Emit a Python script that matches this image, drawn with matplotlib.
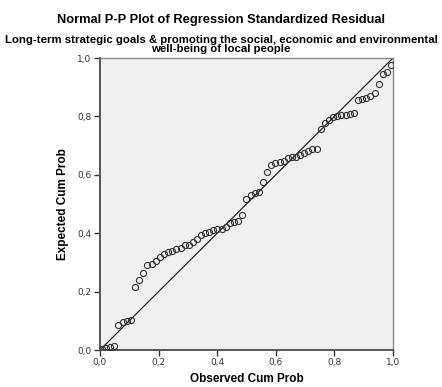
'''Normal P-P plot of regression standardized residual'''

import matplotlib
matplotlib.use('Agg')
import matplotlib.pyplot as plt
from matplotlib.ticker import FuncFormatter

#observed cumulative probabilities
observed = [0.007, 0.021, 0.035, 0.049, 0.063, 0.077, 0.092, 0.106, 0.120, 0.134,
	0.148, 0.162, 0.176, 0.190, 0.204, 0.218, 0.232, 0.246, 0.261, 0.275,
	0.289, 0.303, 0.317, 0.331, 0.345, 0.359, 0.373, 0.387, 0.401, 0.415,
	0.430, 0.444, 0.458, 0.472, 0.486, 0.500, 0.514, 0.528, 0.542, 0.556,
	0.570, 0.585, 0.599, 0.613, 0.627, 0.641, 0.655, 0.669, 0.683, 0.697,
	0.711, 0.725, 0.739, 0.754, 0.768, 0.782, 0.796, 0.810, 0.824, 0.838,
	0.852, 0.866, 0.880, 0.894, 0.908, 0.923, 0.937, 0.951, 0.965, 0.979,
	0.993]
#expected cumulative probabilities
expected = [0.003, 0.006, 0.009, 0.014, 0.086, 0.097, 0.099, 0.103, 0.215, 0.240,
	0.264, 0.290, 0.295, 0.304, 0.317, 0.329, 0.334, 0.340, 0.347, 0.349,
	0.360, 0.360, 0.369, 0.379, 0.394, 0.400, 0.405, 0.412, 0.413, 0.415,
	0.420, 0.436, 0.439, 0.442, 0.461, 0.516, 0.531, 0.537, 0.540, 0.577,
	0.611, 0.634, 0.639, 0.645, 0.648, 0.656, 0.660, 0.660, 0.668, 0.673,
	0.682, 0.688, 0.689, 0.756, 0.778, 0.788, 0.798, 0.801, 0.805, 0.806,
	0.807, 0.813, 0.856, 0.860, 0.864, 0.871, 0.881, 0.912, 0.945, 0.951,
	0.977]
ticks = [0.0, 0.2, 0.4, 0.6, 0.8, 1.0]

plt.rcParams['font.family'] = ['DejaVu Sans']
title_font = ['Liberation Sans', 'DejaVu Sans']
fig = plt.figure(figsize=(4.42, 3.87), dpi=100)
ax = fig.add_axes([0.2262, 0.0956, 0.6629, 0.7545])	#plot box position in figure
ax.set_facecolor('#f0f0f0')

ax.plot([0, 1], [0, 1], '-', color='#222222', linewidth=0.9, zorder=2)	#reference diagonal
ax.plot(observed, expected, 'o', markerfacecolor='none', markeredgecolor='#333333',
	markersize=4.4, markeredgewidth=0.8, zorder=3)

ax.set_xlim(0, 1)
ax.set_ylim(0, 1)
ax.set_xticks(ticks)
ax.set_yticks(ticks)
comma = FuncFormatter(lambda v, p: ('%.1f' % v).replace('.', ','))
ax.xaxis.set_major_formatter(comma)
ax.yaxis.set_major_formatter(comma)
ax.tick_params(axis='both', direction='out', length=4, width=1, color='#333333',
	labelsize=6.5, labelcolor='#333333', pad=2)

for side in ['top', 'right']:
	ax.spines[side].set_color('#888888')
	ax.spines[side].set_linewidth(1.0)
for side in ['left', 'bottom']:
	ax.spines[side].set_color('#555555')
	ax.spines[side].set_linewidth(1.4)

ax.set_xlabel('Observed Cum Prob', fontsize=8.5, fontweight='bold', family=title_font, labelpad=4)
ax.set_ylabel('Expected Cum Prob', fontsize=8.5, fontweight='bold', family=title_font, labelpad=6)

fig.text(0.5, 0.948, 'Normal P-P Plot of Regression Standardized Residual',
	ha='center', va='center', fontsize=9.3, fontweight='bold', family=title_font)
fig.text(0.5, 0.886, 'Long-term strategic goals & promoting the social, economic and environmental\nwell-being of local people',
	ha='center', va='center', fontsize=8.2, fontweight='bold', family=title_font, linespacing=0.9)

plt.savefig('out.png', dpi=100)
